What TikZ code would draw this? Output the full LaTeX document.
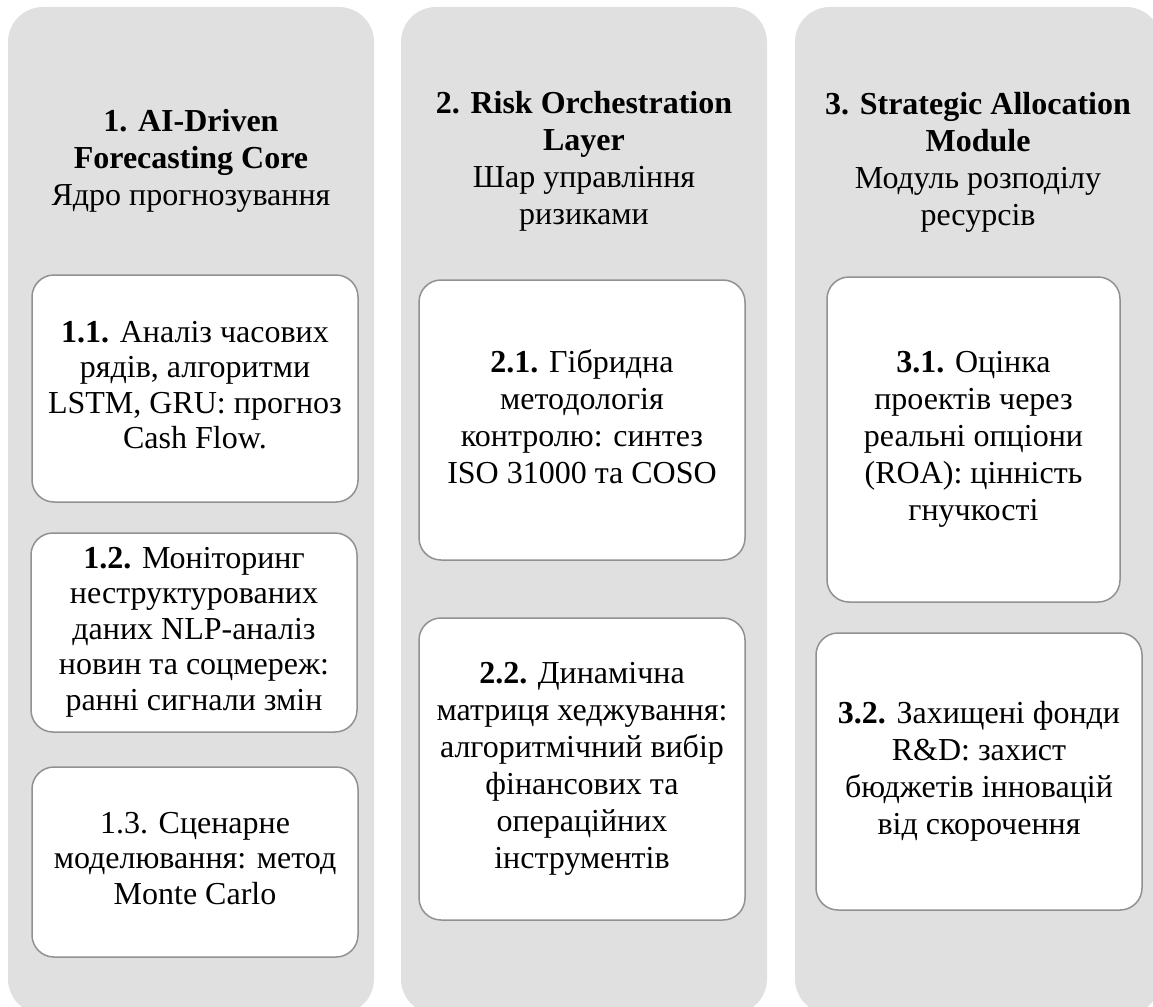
\documentclass[tikz,border=0pt]{standalone}
\usepackage{fontspec}
\setmainfont{Liberation Serif}
\definecolor{colgray}{RGB}{224,224,224}
\definecolor{cardline}{RGB}{145,145,145}
\newcommand\lnstrut{\rule[-7.6pt]{0pt}{36.8pt}}
\newcommand\topstrut{\rule[-7.6pt]{0pt}{44.8pt}}
\begin{document}
\begin{tikzpicture}[x=1pt,y=-1pt,
  column/.style={fill=colgray, draw=none, rounded corners=35pt, minimum width=366pt, minimum height=1007pt, inner sep=0pt},
  txt/.style={align=center, inner sep=0pt, font=\fontsize{32}{37}\selectfont,
    execute at begin node=\lnstrut, execute at end node=\lnstrut},
  card/.style={txt, fill=white, draw=cardline, line width=1.5pt, rounded corners=22pt,
    execute at begin node=\topstrut},
  tight/.style={font=\fontsize{32}{35.5}\selectfont},
  head/.style={txt}]
\useasboundingbox (0,0) rectangle (1153,1006);
\clip (0,0) rectangle (1153,1006);
% columns
\node[column] (c1) at (191,510.5) {};
\node[column] (c2) at (584,510.5) {};
\node[column] (c3) at (978,510.5) {};
% headers
\node[head] (h1) at (191,161) {\textbf{1. AI-Driven}\\\textbf{Forecasting Core}\\Ядро прогнозування};
\node[head] (h2) at (584,162) {\textbf{2. Risk Orchestration}\\\textbf{Layer}\\Шар управління\\ризиками};
\node[head] (h3) at (978,163) {\textbf{3. Strategic Allocation}\\\textbf{Module}\\Модуль розподілу\\ресурсів};
% cards column 1
\node[card, tight, minimum width=326pt, minimum height=227pt] (b11) at (195,388.5)
  {\textbf{1.1.} Аналіз часових\\рядів, алгоритми\\LSTM, GRU: прогноз\\Cash Flow.};
\node[card, tight, minimum width=326pt, minimum height=199pt] (b12) at (194,632.5)
  {\textbf{1.2.} Моніторинг\\неструктурованих\\даних NLP-аналіз\\новин та соцмереж:\\ранні сигнали змін};
\node[card, tight, minimum width=326pt, minimum height=190pt] (b13) at (195,862)
  {1.3. Сценарне\\моделювання: метод\\Monte Carlo};
% cards column 2
\node[card, minimum width=326pt, minimum height=280pt] (b21) at (582,420)
  {\textbf{2.1.} Гібридна\\методологія\\контролю: синтез\\ISO 31000 та COSO};
\node[card, minimum width=326pt, minimum height=302pt] (b22) at (582,769)
  {\textbf{2.2.} Динамічна\\матриця хеджування:\\алгоритмічний вибір\\фінансових та\\операційних\\інструментів};
% cards column 3
\node[card, minimum width=293pt, minimum height=325pt] (b31) at (973.5,439.5)
  {\textbf{3.1.} Оцінка\\проектів через\\реальні опціони\\(ROA): цінність\\гнучкості};
\node[card, minimum width=326pt, minimum height=277pt] (b32) at (979,771.5)
  {\textbf{3.2.} Захищені фонди\\R\&D: захист\\бюджетів інновацій\\від скорочення};
\end{tikzpicture}
\end{document}
